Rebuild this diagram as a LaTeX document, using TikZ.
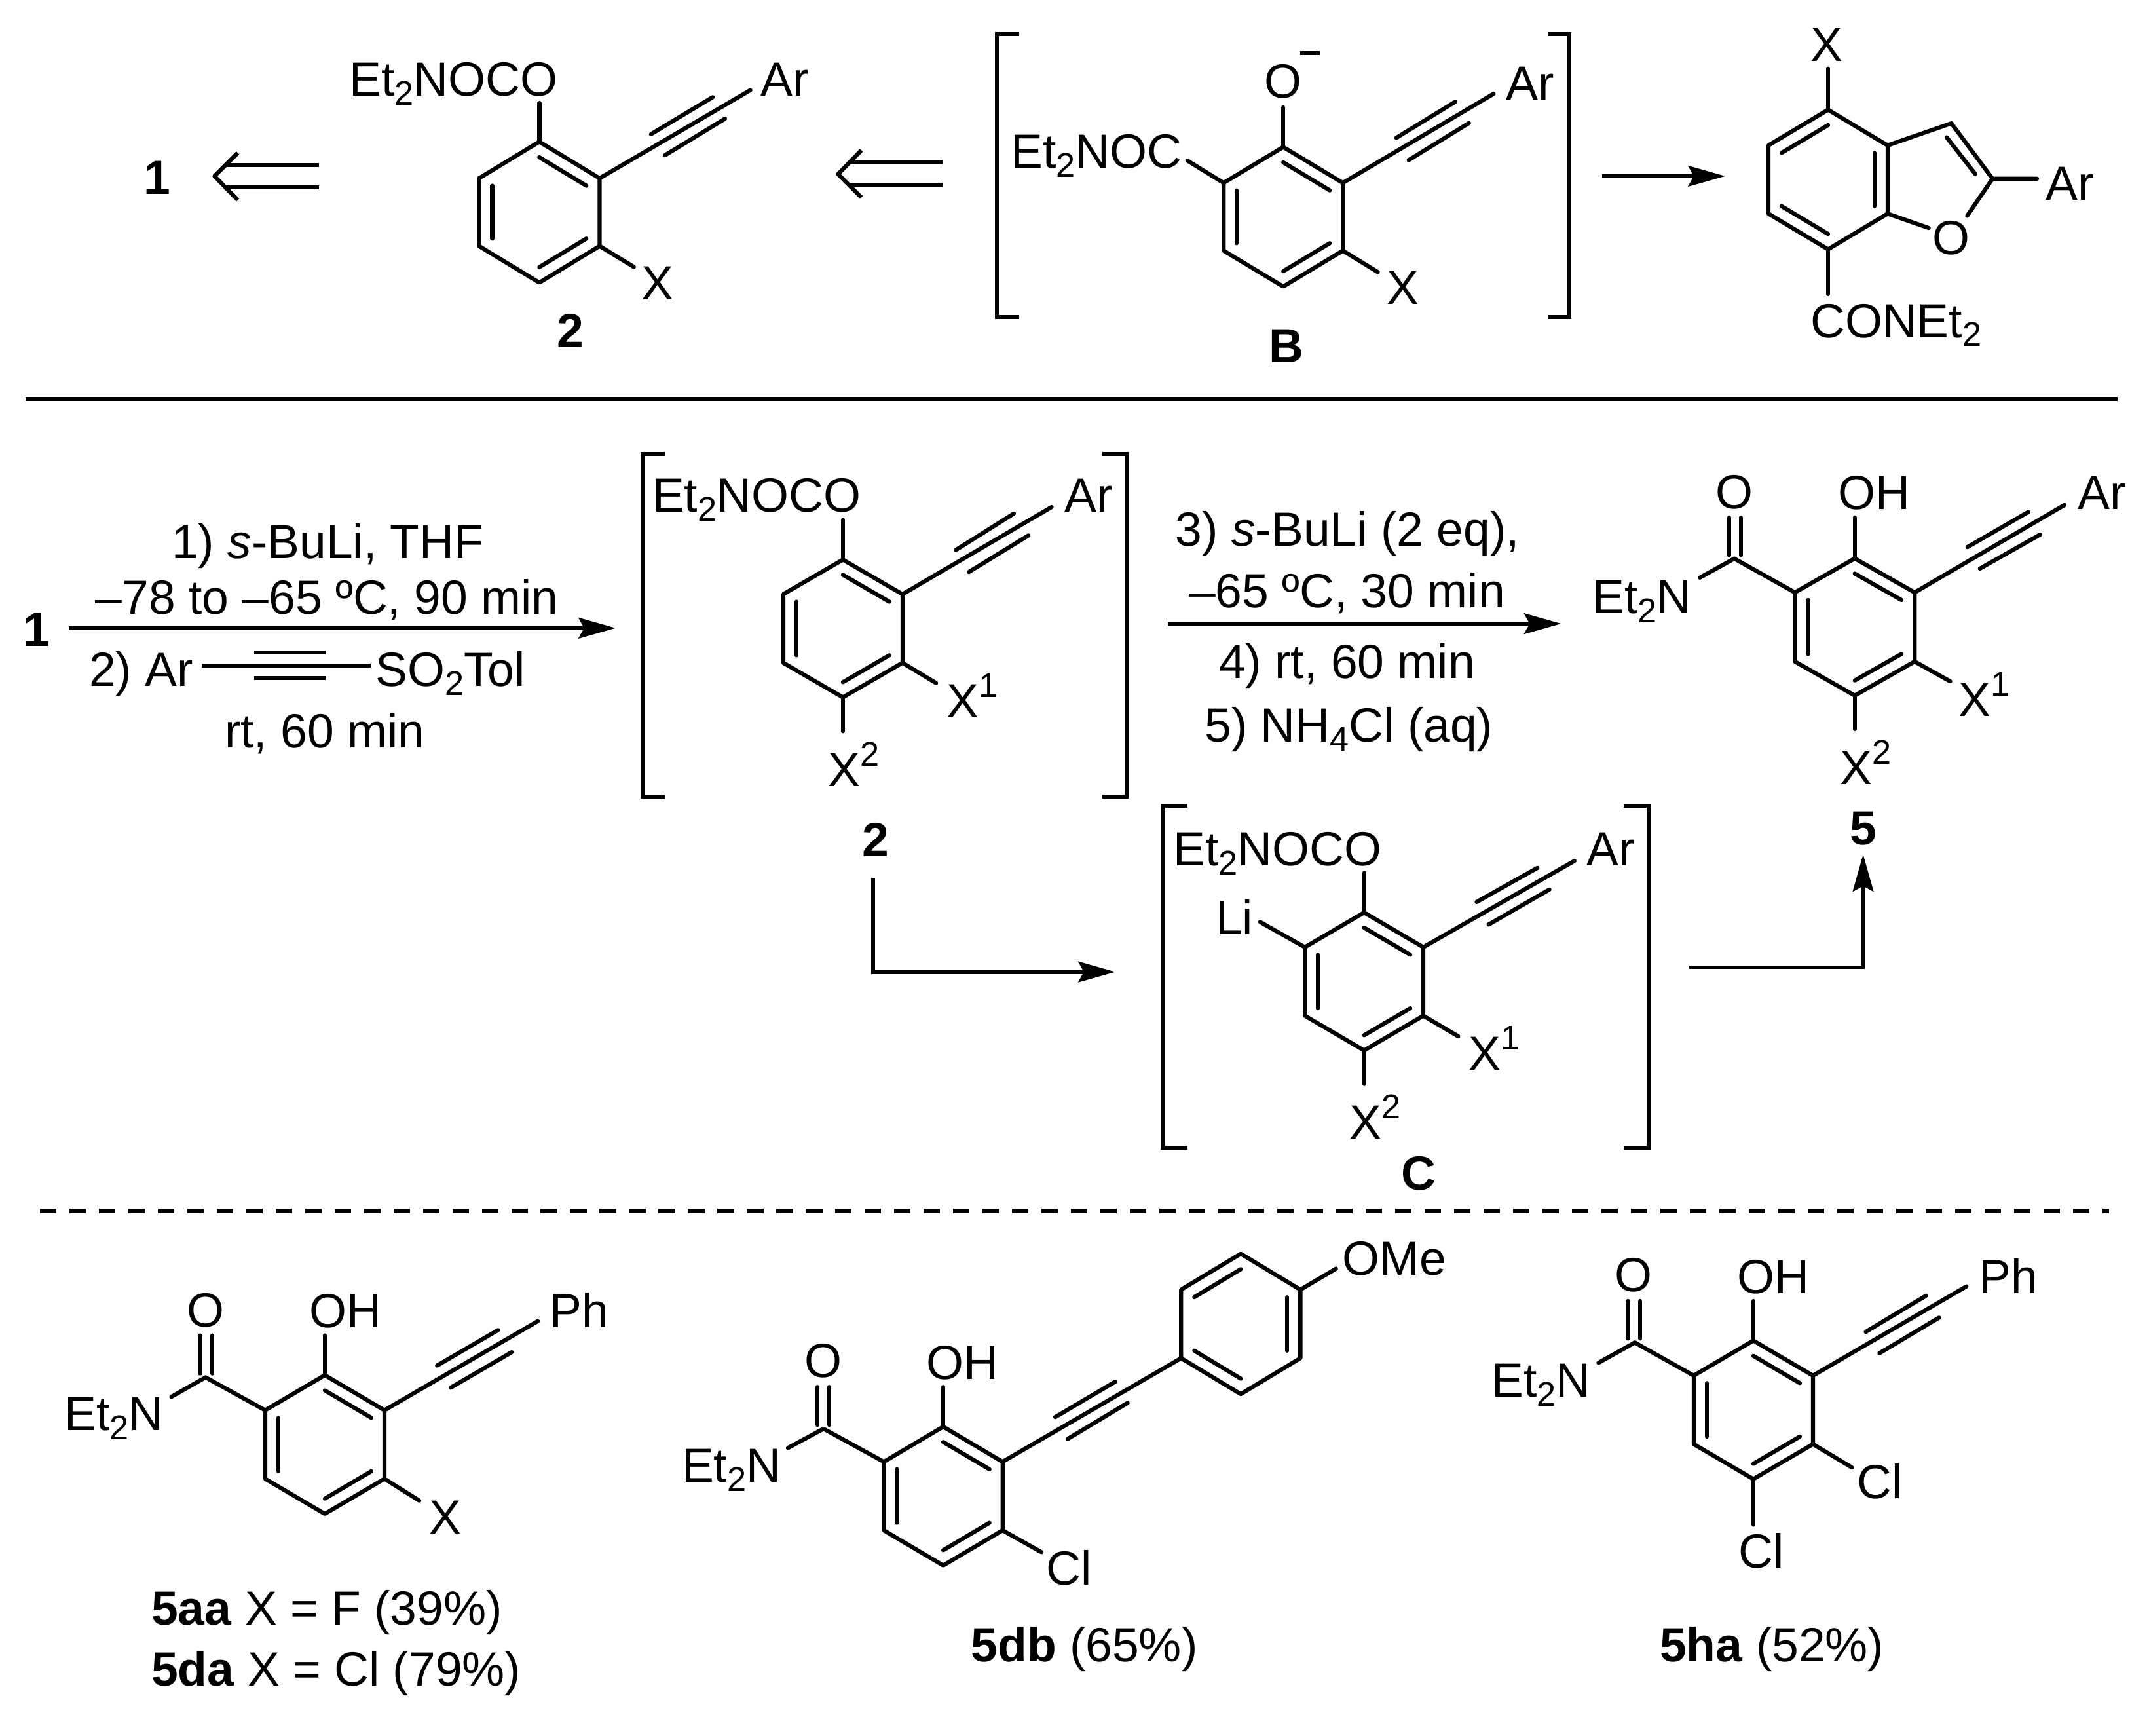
\documentclass[tikz,border=0pt]{standalone}
\usepackage{fontspec}
\setmainfont{Liberation Sans}
\usetikzlibrary{calc,arrows.meta}
\newcommand\subb[1]{\raisebox{-.19em}{\fontsize{25}{25}\selectfont #1}}
\newcommand\supp[1]{\raisebox{.42em}{\fontsize{25}{25}\selectfont #1}}
\tikzset{
  bond/.style={line width=3pt,line cap=round,line join=round},
  rule/.style={line width=3.2pt},
  rxn/.style={line width=2.8pt,line join=miter,-{Stealth[length=27pt,width=15pt,inset=4pt]}},
  lab/.style={anchor=base west,yshift=-0.8pt,inner sep=0pt,outer sep=0pt,font=\fontsize{35}{40}\selectfont},
  cen/.style={anchor=center,inner sep=0pt,outer sep=0pt,font=\fontsize{35}{40}\selectfont},
  ctr/.style={anchor=base,yshift=-0.8pt,inner sep=0pt,outer sep=0pt,font=\fontsize{35}{40}\selectfont},
  brk/.style={line width=3pt,line join=miter}
}
% ring: name, cx, cy, half width, half vertical side, apex distance
\newcommand\hexring[6]{%
  \coordinate (#1c) at (#2,#3);
  \coordinate (#1t) at (#2,#3-#6);
  \coordinate (#1ur) at (#2+#4,#3-#5);
  \coordinate (#1lr) at (#2+#4,#3+#5);
  \coordinate (#1b) at (#2,#3+#6);
  \coordinate (#1ll) at (#2-#4,#3+#5);
  \coordinate (#1ul) at (#2-#4,#3-#5);
  \draw[bond] (#1t)--(#1ur)--(#1lr)--(#1b)--(#1ll)--(#1ul)--cycle;
}
\newcommand\dbl[3]{\draw[bond] ($(#1c)!.78!(#1#2)$) -- ($(#1c)!.78!(#1#3)$);}
\newcommand\bnd[2]{\draw[bond] (#1) -- (#2);}
\newcommand\lbl[3]{\node[lab] (L#1) at (#2) {#3};}
\newcommand\clbl[3]{\node[cen] (L#1) at (#2) {#3};}
\newcommand\brackets[6]{% x1 tick1 x2 tick2 top bottom
  \draw[brk] (#2,#5) -- (#1,#5) -- (#1,#6) -- (#2,#6);
  \draw[brk] (#4,#5) -- (#3,#5) -- (#3,#6) -- (#4,#6);
}
\begin{document}
\begin{tikzpicture}[x=1pt,y=-1pt]
\fill[white] (0,0) rectangle (1568,1266.4);
\useasboundingbox (0,0) rectangle (1568,1266.4);

%%% TOP ROW
\begin{scope}[yscale=.9885]
\clbl{cpdA}{114.5,131}{\bfseries 1}
% retro arrows
\draw[bond,line cap=butt] (173.5,112.8) -- (156.5,130) -- (173.5,147.6);
\draw[bond,line cap=butt] (164.6,121.8) -- (232.5,121.8);
\draw[bond,line cap=butt] (164.6,138.2) -- (232.5,138.2);
\draw[bond,line cap=butt] (628.5,110.9) -- (611.5,128.5) -- (628.5,145.7);
\draw[bond,line cap=butt] (620,120) -- (687.5,120);
\draw[bond,line cap=butt] (620,136.5) -- (687.5,136.5);

% structure 2 (top)
\hexring{p}{393.5}{156.6}{44}{25}{52}
\dbl{p}{t}{ur}\dbl{p}{lr}{b}\dbl{p}{ll}{ul}
\bnd{pt}{393.5,76}
\bnd{pur}{547.5,66.5}
\bnd{475,99}{520,71.7}
\bnd{485,114.7}{529,87.6}
\bnd{plr}{462.5,197}
\lbl{pa}{255,70.2}{Et\subb{2}NOCO}
\lbl{pb}{555,70.2}{Ar}
\clbl{pc}{480,209}{X}
\clbl{pd}{416,244}{\bfseries 2}

% intermediate B
\brackets{727.5}{743.5}{1144.8}{1129.8}{25.3}{234}
\hexring{q}{936.3}{160}{43.5}{25}{51.5}
\dbl{q}{t}{ur}\dbl{q}{lr}{b}\dbl{q}{ll}{ul}
\bnd{qt}{936.3,79.3}
\clbl{qa}{936.3,60.2}{O}
\draw[line width=3pt] (948.8,39.2) -- (962.8,39.2);
\lbl{qb}{737.5,123.3}{Et\subb{2}NOC}
\bnd{qul}{866.3,118.5}
\bnd{qur}{1089.8,69.2}
\bnd{1018.8,101.7}{1061.8,75.1}
\bnd{1027.8,118.2}{1071.8,90.8}
\lbl{qc}{1098.8,73}{Ar}
\bnd{qlr}{1005.3,200.8}
\clbl{qd}{1023.8,212.6}{X}
\clbl{qe}{938.8,255.6}{\bfseries B}

\coordinate (a1s) at (1168.8,130); \coordinate (a1e) at (1258.8,130);
\draw[rxn] (a1s) -- (a1e);

% benzofuran
\hexring{r}{1333.8}{132.5}{43.5}{25.2}{51.5}
\dbl{r}{t}{ul}\dbl{r}{ur}{lr}\dbl{r}{b}{ll}
\coordinate (rf1) at (1423.8,91);
\coordinate (rf2) at (1453.8,131.9);
\draw[bond] (rur) -- (rf1) -- (rf2) -- (1435.3,159.3);
\bnd{rlr}{1407.3,168.3}
\bnd{1420.3,101.3}{1441.3,128.5}
\bnd{rf2}{1486.3,131.9}
\clbl{ra}{1423.8,175.5}{O}
\lbl{rb}{1492.8,146.8}{Ar}
\bnd{rt}{1333.8,50.7}
\clbl{rc}{1332.8,33}{X}
\bnd{rb}{1333.8,217}
\lbl{rd}{1321,248.2}{CONEt\subb{2}}
\end{scope}

% solid rule
\draw[rule] (18.5,291) -- (1544.8,291);

%%% MIDDLE
\clbl{cpdB}{26.5,459.3}{\bfseries 1}
\coordinate (a2s) at (50.4,458.2); \coordinate (a2e) at (449.2,458.2);
\draw[rxn] (a2s) -- (a2e);
\node[ctr] (t1) at (239,406.6) {1) \textit{s}-BuLi, THF};
\node[ctr] (t2) at (238.6,447) {–78 to –65 ºC, 90 min};
\lbl{t3}{65,500}{2) Ar}
\lbl{t4}{274,500}{SO\subb{2}Tol}
\node[ctr] (t5) at (236.9,544.8) {rt, 60 min};
\coordinate (ts) at (147,485.5); \coordinate (te) at (270.5,485.5);
\draw[bond,line cap=butt] (ts) -- (te);
\draw[bond,line cap=butt] (185.6,475.9) -- (237.6,475.9);
\draw[bond,line cap=butt] (185.6,494.5) -- (237.6,494.5);

% bracketed 2
\brackets{468.8}{485.2}{822}{804.5}{331.3}{581}
\hexring{s}{615}{458.5}{43.5}{25}{50.2}
\dbl{s}{t}{ur}\dbl{s}{lr}{b}\dbl{s}{ll}{ul}
\bnd{st}{615,379.3}
\bnd{sur}{767.3,369.9}
\bnd{697.3,401.3}{739.8,374.6}
\bnd{706.9,417.3}{750.4,390.6}
\bnd{slr}{683,498.3}
\bnd{sb}{615,533.5}
\lbl{sa}{476,372.5}{Et\subb{2}NOCO}
\lbl{sd}{777,372.5}{Ar}
\lbl{se}{691,522.8}{X\supp{1}}
\lbl{sf}{604.5,573}{X\supp{2}}
\clbl{sg}{639,612.4}{\bfseries 2}
% connector 2 -> C
\coordinate (a3s) at (637,640.4); \coordinate (a3m) at (637,709); \coordinate (a3e) at (813.8,709);
\draw[rxn] (a3s) -- (a3m) -- (a3e);

% arrow 2 -> 5
\coordinate (a4s) at (851.9,455); \coordinate (a4e) at (1139.1,455);
\draw[rxn] (a4s) -- (a4e);
\node[ctr] (u1) at (983.2,397.3) {3) \textit{s}-BuLi (2 eq),};
\node[ctr] (u2) at (982.8,442.3) {–65 ºC, 30 min};
\node[ctr] (u3) at (982.8,494) {4) rt, 60 min};
\node[ctr] (u4) at (984.2,540.5) {5) NH\subb{4}Cl (aq)};

% product 5
\hexring{v}{1353.3}{457.4}{43.7}{25.2}{50}
\dbl{v}{t}{ur}\dbl{v}{lr}{b}\dbl{v}{ll}{ul}
\bnd{vt}{1353.3,377.5}
\bnd{vur}{1506.3,368.4}
\bnd{1435.5,399.1}{1479.9,373.5}
\bnd{1444.6,414.8}{1488.5,390}
\coordinate (vcc) at (1265.4,407.5);
\bnd{vul}{vcc}
\bnd{1261.5,405}{1261.5,377.5}
\bnd{1270.2,405}{1270.2,377.5}
\bnd{vcc}{1240.3,421.4}
\bnd{vlr}{1423,497.1}
\bnd{vb}{1353.3,531.9}
\clbl{va}{1265.4,359}{O}
\lbl{vb}{1341,371}{OH}
\lbl{vc}{1516,371}{Ar}
\lbl{vd}{1162,446.6}{Et\subb{2}N}
\lbl{ve}{1429.2,521.6}{X\supp{1}}
\lbl{vf}{1342.5,571.3}{X\supp{2}}
\clbl{vg}{1359.4,604.3}{\bfseries 5}

% bracketed C
\brackets{848.5}{866.4}{1202.7}{1184.9}{587.8}{837.2}
\hexring{w}{995.3}{716}{43.2}{25}{50.3}
\dbl{w}{t}{ur}\dbl{w}{lr}{b}\dbl{w}{ll}{ul}
\bnd{wt}{995.3,636.8}
\bnd{wul}{919.4,672.6}
\bnd{wur}{1148.8,628}
\bnd{1077.4,658}{1121.8,633.1}
\bnd{1086.1,674.5}{1130.5,648.9}
\bnd{wlr}{1064,756}
\bnd{wb}{995.3,790.8}
\lbl{wa}{856,630.6}{Et\subb{2}NOCO}
\lbl{wc}{887,680.7}{Li}
\lbl{wd}{1157.9,630.6}{Ar}
\lbl{we}{1071.7,779.8}{X\supp{1}}
\lbl{wf}{984.9,829.9}{X\supp{2}}
\clbl{wg}{1035,856.2}{\bfseries C}
% C -> 5
\coordinate (a5s) at (1232.6,705.6); \coordinate (a5m) at (1359.4,705.6); \coordinate (a5e) at (1359.4,623.3);
\draw[rxn] (a5s) -- (a5m) -- (a5e);

% dashed rule
\draw[rule,dash pattern=on 12pt off 9.5pt] (29,883.5) -- (1538.8,883.5);

%%% BOTTOM
% 5aa/5da
\hexring{x}{237}{1053.8}{43.5}{25}{50.6}
\dbl{x}{t}{ur}\dbl{x}{lr}{b}\dbl{x}{ll}{ul}
\bnd{xt}{237,974.2}
\bnd{xur}{392.4,963.8}
\bnd{318.9,996.2}{363.4,970.3}
\bnd{328.9,1012.3}{373.4,986.4}
\coordinate (xcc) at (150,1004.8);
\bnd{xul}{xcc}
\bnd{146,1002}{146,974.2}
\bnd{155,1002}{155,974.2}
\bnd{xcc}{125,1019}
\bnd{xlr}{305.9,1094.7}
\clbl{xa}{150,956}{O}
\lbl{xb}{226,967.7}{OH}
\lbl{xc}{401.4,967.7}{Ph}
\lbl{xd}{47,1042.9}{Et\subb{2}N}
\lbl{xe}{313.4,1118}{X}
\lbl{xf}{110.5,1184.6}{\textbf{5aa} X = F (39\%)}
\lbl{xg}{110.5,1229}{\textbf{5da} X = Cl (79\%)}

% 5db
\hexring{y}{688.2}{1091.4}{43.3}{25}{50.6}
\dbl{y}{t}{ur}\dbl{y}{lr}{b}\dbl{y}{ll}{ul}
\bnd{yt}{688.2,1011.8}
\coordinate (ycc) at (600.9,1042.3);
\bnd{yul}{ycc}
\bnd{596.4,1039.5}{596.4,1011.8}
\bnd{604.9,1039.5}{604.9,1011.8}
\bnd{ycc}{574.9,1056.3}
\bnd{ylr}{759.9,1132.3}
\hexring{z}{905.3}{965.8}{43.5}{25}{51.2}
\dbl{z}{t}{ul}\dbl{z}{ur}{lr}\dbl{z}{b}{ll}
\bnd{yur}{zll}
\bnd{769.9,1033.8}{813.8,1007.9}
\bnd{778.9,1049.8}{822.8,1023.4}
\bnd{zur}{974.8,925.5}
\clbl{ya}{600.9,992.9}{O}
\lbl{yb}{675.9,1005.3}{OH}
\lbl{yc}{497.5,1080.4}{Et\subb{2}N}
\lbl{yd}{763.4,1155.6}{Cl}
\lbl{ye}{979.5,929.6}{OMe}
\lbl{yf}{708.5,1211.3}{\textbf{5db} (65\%)}

% 5ha
\hexring{h}{1279.3}{1028.5}{43.5}{25}{50.5}
\dbl{h}{t}{ur}\dbl{h}{lr}{b}\dbl{h}{ll}{ul}
\bnd{ht}{1279.3,949.1}
\bnd{hur}{1434.8,938.4}
\bnd{1361.3,971.6}{1405.3,945.2}
\bnd{1371.3,987.2}{1414.8,961.2}
\coordinate (hcc) at (1192.8,979.4);
\bnd{hul}{hcc}
\bnd{1187.8,976.5}{1187.8,949.1}
\bnd{1196.8,976.5}{1196.8,949.1}
\bnd{hcc}{1166.3,994.2}
\bnd{hlr}{1351.3,1070.6}
\bnd{hb}{1279.3,1112.3}
\clbl{ha}{1191.8,930.2}{O}
\lbl{hb}{1267.8,942.6}{OH}
\lbl{hc}{1443.8,942.6}{Ph}
\lbl{hd}{1088.5,1018.2}{Et\subb{2}N}
\lbl{he}{1355.3,1092.6}{Cl}
\lbl{hf}{1268.8,1143.1}{Cl}
\lbl{hg}{1211,1211.3}{\textbf{5ha} (52\%)}
\end{tikzpicture}
\end{document}
